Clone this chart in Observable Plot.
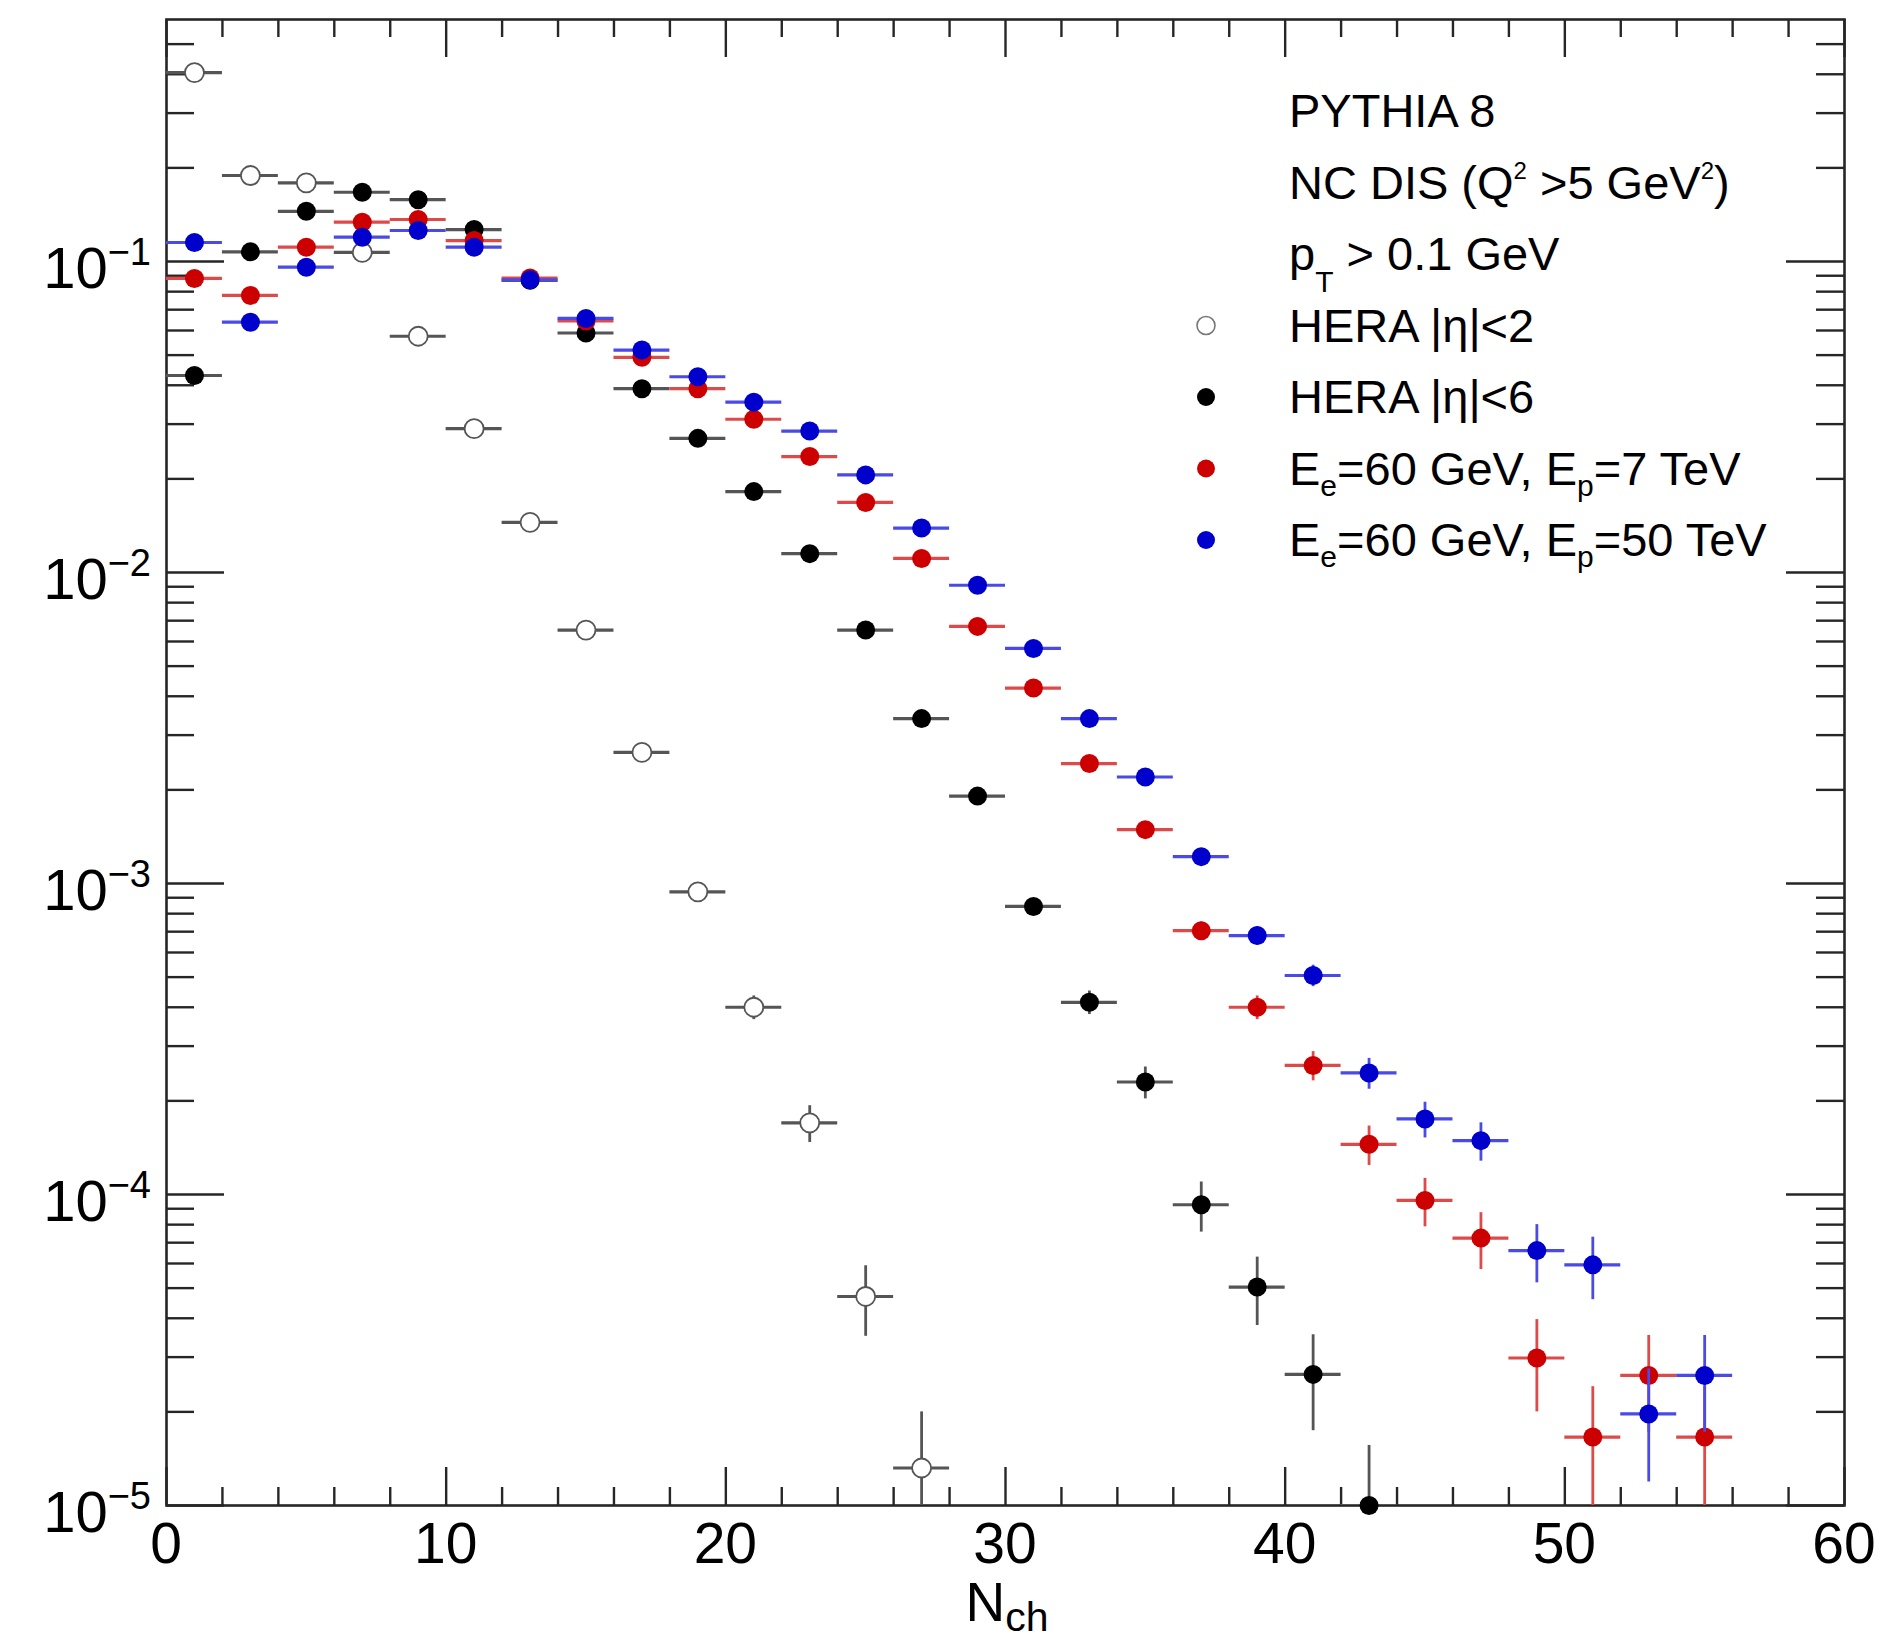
<!DOCTYPE html>
<html>
<head>
<meta charset="utf-8">
<script src="https://cdn.jsdelivr.net/npm/d3@7"></script>
<script src="https://cdn.jsdelivr.net/npm/@observablehq/plot@0.6"></script>
<style>
  html, body { margin: 0; padding: 0; background: #fff; }
  #chart svg { display: block; }
</style>
</head>
<body>
<div id="chart"></div>
<script>
// Charged-particle multiplicity distributions, 2-unit bins in N_ch.
const binCenters = [1, 3, 5, 7, 9, 11, 13, 15, 17, 19, 21, 23, 25, 27, 29, 31, 33, 35, 37, 39, 41, 43, 45, 47, 49, 51, 53, 55];
const binHalfWidth = 1;

// HERA |eta|<2 (open circles)
const heraEta2 = [0.405, 0.189, 0.179, 0.107, 0.0575, 0.0290, 0.0145, 0.00653, 0.00264, 0.00094, 0.00040, 0.00017, 4.7e-5, 1.32e-5];
const heraEta2Err = [1.12e-3, 7.65e-4, 7.45e-4, 5.76e-4, 4.22e-4, 3.0e-4, 2.12e-4, 1.42e-4, 9.0e-5, 5.4e-5, 3.5e-5, 2.3e-5, 1.2e-5, 6.8e-6];

// HERA |eta|<6 (black)
const heraEta6 = [0.043, 0.1074, 0.145, 0.167, 0.158, 0.1267, 0.087, 0.0589, 0.039, 0.027, 0.0182, 0.0115, 0.00653, 0.00339, 0.00191, 0.000844, 0.000415, 0.00023, 9.27e-5, 5.04e-5, 2.64e-5, 1.0e-5];
const heraEta6Err = [3.65e-4, 5.77e-4, 6.7e-4, 7.2e-4, 7.0e-4, 6.27e-4, 5.19e-4, 4.27e-4, 3.48e-4, 2.89e-4, 2.38e-4, 1.89e-4, 1.42e-4, 1.03e-4, 7.7e-5, 5.1e-5, 3.6e-5, 2.7e-5, 1.7e-5, 1.25e-5, 9.0e-6, 5.6e-6];

// Ee=60 GeV, Ep=7 TeV (red)
const lhec7 = [0.0882, 0.0778, 0.1112, 0.1338, 0.1365, 0.1168, 0.0885, 0.0644, 0.0492, 0.039, 0.0311, 0.0236, 0.0168, 0.0111, 0.00671, 0.00425, 0.00243, 0.00149, 0.000705, 0.0004, 0.00026, 0.000145, 9.57e-5, 7.24e-5, 2.98e-5, 1.66e-5, 2.62e-5, 1.66e-5];
const lhec7Err = [5.23e-4, 4.91e-4, 5.87e-4, 6.44e-4, 6.5e-4, 6.02e-4, 5.24e-4, 4.47e-4, 3.9e-4, 3.48e-4, 3.1e-4, 2.7e-4, 2.28e-4, 1.85e-4, 1.44e-4, 1.15e-4, 8.7e-5, 6.8e-5, 4.7e-5, 3.5e-5, 2.8e-5, 2.1e-5, 1.7e-5, 1.5e-5, 9.8e-6, 7.5e-6, 9.0e-6, 7.5e-6];

// Ee=60 GeV, Ep=50 TeV (blue)
const fcc50 = [0.1151, 0.0638, 0.0959, 0.1197, 0.1258, 0.1112, 0.0873, 0.0656, 0.0519, 0.0426, 0.0353, 0.0285, 0.0206, 0.0139, 0.0091, 0.0057, 0.00339, 0.0022, 0.00122, 0.00068, 0.000506, 0.000246, 0.000175, 0.000149, 6.6e-5, 5.94e-5, 1.97e-5, 2.62e-5];
const fcc50Err = [5.97e-4, 4.45e-4, 5.45e-4, 6.09e-4, 6.24e-4, 5.87e-4, 5.2e-4, 4.51e-4, 4.01e-4, 3.63e-4, 3.31e-4, 2.97e-4, 2.53e-4, 2.08e-4, 1.68e-4, 1.33e-4, 1.03e-4, 8.3e-5, 6.1e-5, 4.6e-5, 4.0e-5, 2.8e-5, 2.3e-5, 2.1e-5, 1.4e-5, 1.35e-5, 7.8e-6, 9.0e-6];

// Axis ticks and labels
const xTickLabels = [0, 10, 20, 30, 40, 50, 60];
const yDecades = [1e-5, 1e-4, 1e-3, 1e-2, 1e-1];
const yDecadeExponents = ["\u22125", "\u22124", "\u22123", "\u22122", "\u22121"];

// Legend entries
const legendEntries = ["HERA |\u03b7|<2", "HERA |\u03b7|<6", "E_e=60 GeV, E_p=7 TeV", "E_e=60 GeV, E_p=50 TeV"];

const series = [
  {name: legendEntries[0], values: heraEta2, errs: heraEta2Err, fill: "#fff", stroke: "#555", bar: "#555"},
  {name: legendEntries[1], values: heraEta6, errs: heraEta6Err, fill: "#000", stroke: "none", bar: "#555"},
  {name: legendEntries[2], values: lhec7, errs: lhec7Err, fill: "#cc0000", stroke: "none", bar: "#dc4a4a"},
  {name: legendEntries[3], values: fcc50, errs: fcc50Err, fill: "#0000cc", stroke: "none", bar: "#4a4ae6"}
];

// Layout
const W = 1901, H = 1640;
const M = {top: 19, right: 57, bottom: 135, left: 166};
const FW = W - M.left - M.right;
const FH = H - M.top - M.bottom;
const FONT = "'Liberation Sans', Arial, Helvetica, sans-serif";
const AXIS = "#262626";

// Tick positions
const xMajor = xTickLabels;
const xMinor = d3.range(2, 60, 2).filter(v => v % 10 !== 0);
const yMajor = yDecades;
const yMinor = [];
for (const d of yDecades) for (let k = 2; k <= 9; k++) { const v = k * d; if (v < 0.6) yMinor.push(v); }

const tickLen = {xMajor: 38, xMinor: 18, yMajor: 58, yMinor: 28};

function rowsOf(s) {
  return s.values.map((v, i) => ({x: binCenters[i], y: v, err: s.errs[i], series: s.name}));
}

const marks = [
  Plot.frame({stroke: AXIS, strokeWidth: 2.6}),
  // bottom & top ticks
  Plot.tickX(xMinor, {x: d => d, insetTop: FH - tickLen.xMinor, stroke: AXIS, strokeWidth: 2.4}),
  Plot.tickX(xMajor, {x: d => d, insetTop: FH - tickLen.xMajor, stroke: AXIS, strokeWidth: 2.4}),
  Plot.tickX(xMinor, {x: d => d, insetBottom: FH - tickLen.xMinor, stroke: AXIS, strokeWidth: 2.4}),
  Plot.tickX(xMajor, {x: d => d, insetBottom: FH - tickLen.xMajor, stroke: AXIS, strokeWidth: 2.4}),
  // left & right ticks
  Plot.tickY(yMinor, {y: d => d, insetRight: FW - tickLen.yMinor, stroke: AXIS, strokeWidth: 2.4}),
  Plot.tickY(yMajor, {y: d => d, insetRight: FW - tickLen.yMajor, stroke: AXIS, strokeWidth: 2.4}),
  Plot.tickY(yMinor, {y: d => d, insetLeft: FW - tickLen.yMinor, stroke: AXIS, strokeWidth: 2.4}),
  Plot.tickY(yMajor, {y: d => d, insetLeft: FW - tickLen.yMajor, stroke: AXIS, strokeWidth: 2.4})
];

for (const s of series) {
  const rows = rowsOf(s);
  marks.push(
    Plot.ruleY(rows, {y: "y", x1: d => d.x - binHalfWidth, x2: d => d.x + binHalfWidth, stroke: s.bar, strokeWidth: 3.2, clip: true}),
    Plot.ruleX(rows, {x: "x", y1: d => d.y - d.err, y2: d => d.y + d.err, stroke: s.bar, strokeWidth: 2.8, clip: true}),
    Plot.dot(rows, {x: "x", y: "y", r: 9.5, fill: s.fill, stroke: s.stroke, strokeWidth: 1.8})
  );
}

const plot = Plot.plot({
  width: W,
  height: H,
  marginTop: M.top, marginRight: M.right, marginBottom: M.bottom, marginLeft: M.left,
  x: {domain: [0, 60], axis: null},
  y: {type: "log", domain: [1e-5, 0.6], axis: null},
  style: {background: "#fff", fontFamily: FONT, overflow: "visible"},
  marks
});
document.getElementById("chart").appendChild(plot);

const sx = plot.scale("x"), sy = plot.scale("y");
const svg = d3.select(plot);
const g = svg.append("g").attr("font-family", FONT).attr("fill", "#000");

// Rich text helper: segments of [text, fontSize, baselineShift]
function richText(parent, x, y, segs, anchor) {
  const t = parent.append("text").attr("x", x).attr("y", y).attr("text-anchor", anchor || "start");
  let cur = 0;
  for (const [txt, size, shift] of segs) {
    const dy = (shift || 0) - cur;
    t.append("tspan").attr("font-size", size).attr("dy", dy).text(txt);
    cur = shift || 0;
  }
  return t;
}

// x tick labels
for (const v of xTickLabels) {
  g.append("text").attr("x", sx.apply(v)).attr("y", 1563).attr("text-anchor", "middle")
    .attr("font-size", 57).text(String(v));
}
// y tick labels 10^n
yDecades.forEach((v, i) => {
  const y = sy.apply(v);
  richText(g, 151, y + 27, [["10", 58, 0], [yDecadeExponents[i], 38, -23]], "end");
});
// x-axis title
richText(g, 1007, 1621, [["N", 55, 0], ["ch", 41, 10]], "middle");

// Legend block
const LX = 1289, LY0 = 127, LSTEP = 71.5, LF = 47, SUB = 30;
richText(g, LX, LY0, [["PYTHIA 8", LF, 0]]);
richText(g, LX, LY0 + LSTEP, [["NC DIS (Q", LF, 0], ["2", 24, -20], [" >5 GeV", LF, 0], ["2", 24, -20], [")", LF, 0]]);
richText(g, LX, LY0 + 2 * LSTEP, [["p", LF, 0], ["T", SUB, 22], [" > 0.1 GeV", LF, 0]]);
richText(g, LX, LY0 + 3 * LSTEP, [[legendEntries[0], LF, 0]]);
richText(g, LX, LY0 + 4 * LSTEP, [[legendEntries[1], LF, 0]]);
richText(g, LX, LY0 + 5 * LSTEP, [["E", LF, 0], ["e", SUB, 11], ["=60 GeV, E", LF, 0], ["p", SUB, 11], ["=7 TeV", LF, 0]]);
richText(g, LX, LY0 + 6 * LSTEP, [["E", LF, 0], ["e", SUB, 11], ["=60 GeV, E", LF, 0], ["p", SUB, 11], ["=50 TeV", LF, 0]]);

series.forEach((s, i) => {
  g.append("circle").attr("cx", 1206).attr("cy", LY0 + (3 + i) * LSTEP - 16).attr("r", 9)
    .attr("fill", s.fill).attr("stroke", s.stroke === "none" ? null : "#777").attr("stroke-width", 1.6);
});
</script>
</body>
</html>
